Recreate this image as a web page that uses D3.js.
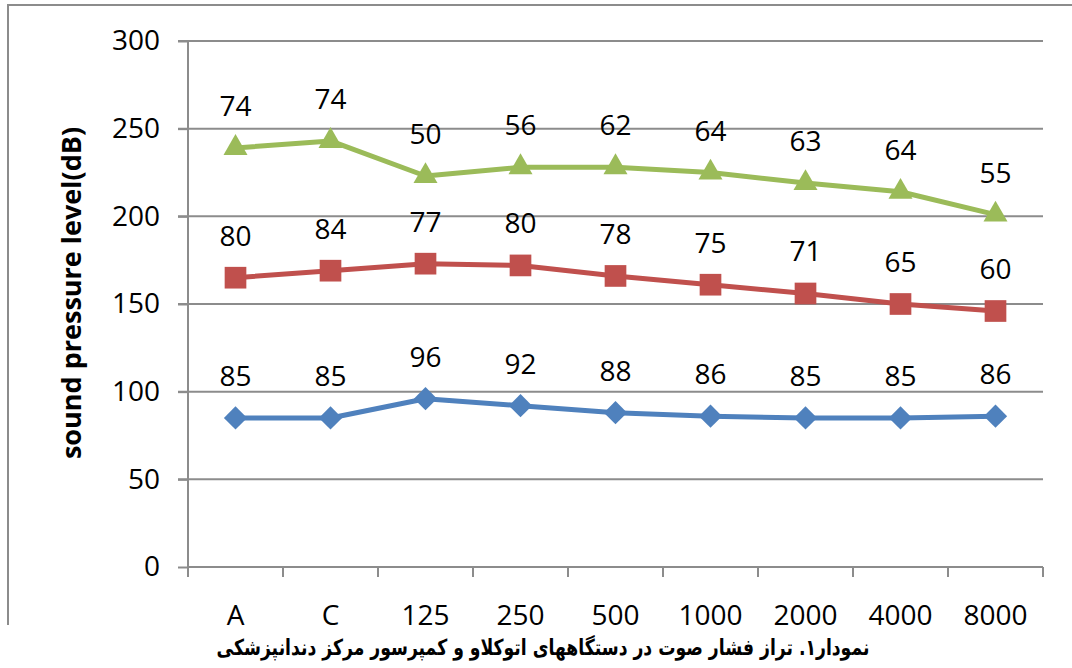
<!DOCTYPE html>
<html>
<head>
<meta charset="utf-8">
<script src="https://cdn.jsdelivr.net/npm/d3@7"></script>
<style>
  body { margin: 0; background: #fff; }
  text { font-family: "Open Sans", "DejaVu Sans", sans-serif; }
</style>
</head>
<body>
<div id="chart"></div>
<script>
// ===== Data =====
let categories = ["A", "C", "125", "250", "500", "1000", "2000", "4000", "8000"];
let seriesA = [85, 85, 96, 92, 88, 86, 85, 85, 86];   // blue
let seriesB = [80, 84, 77, 80, 78, 75, 71, 65, 60];   // red
let seriesC = [74, 74, 50, 56, 62, 64, 63, 64, 55];   // green
let yTicks = [0, 50, 100, 150, 200, 250, 300];
let caption = "نمودار۱. تراز فشار صوت در دستگاههای اتوکلاو و کمپرسور مرکز دندانپزشکی";

let W = 1072, H = 668;
let margin = {top: 41, left: 188, right: 29, bottom: 101},
    width = W - margin.left - margin.right,
    height = H - margin.top - margin.bottom;

let fs = 28;

let svg = d3.select("#chart").append("svg")
    .attr("width", W)
    .attr("height", H);

svg.append("clipPath").attr("id", "frameClip")
  .append("rect").attr("x", 0).attr("y", 0).attr("width", W).attr("height", 625);

let frame = svg.append("g").attr("clip-path", "url(#frameClip)");

// outer chart frame
frame.append("rect")
    .attr("x", 8).attr("y", 5)
    .attr("width", W + 20).attr("height", 700)
    .attr("fill", "#fff")
    .attr("stroke", "#8c8c8c")
    .attr("stroke-width", 2);

let g = frame.append("g")
    .attr("transform", "translate(" + margin.left + "," + margin.top + ")");

let x = d3.scaleBand().domain(categories).range([0, width]),
    y = d3.scaleLinear().domain([0, 300]).range([height, 0]);

// stacked totals
let stacked = [
  {vals: seriesA, color: "#4F81BD", shape: "diamond"},
  {vals: seriesB, color: "#C0504D", shape: "square"},
  {vals: seriesC, color: "#9BBB59", shape: "triangle"}
];
let run = categories.map(() => 0);
stacked.forEach(s => {
  s.pts = s.vals.map((v, i) => { run[i] += v; return {cat: categories[i], v: v, cum: run[i]}; });
});

// gridlines
g.selectAll(".grid").data(yTicks.filter(d => d > 0)).enter().append("line")
    .attr("x1", -10).attr("x2", width)
    .attr("y1", d => y(d)).attr("y2", d => y(d))
    .attr("stroke", "#8c8c8c").attr("stroke-width", 2);

// y axis
let yAxis = d3.axisLeft(y).tickValues(yTicks).tickSize(10).tickPadding(18);
let ya = g.append("g").call(yAxis);
ya.select(".domain").attr("stroke", "#8c8c8c").attr("stroke-width", 2).attr("d", "M0," + height + "V0");
ya.selectAll(".tick line").attr("stroke", "#8c8c8c").attr("stroke-width", 2);
ya.selectAll(".tick text").attr("font-size", fs).attr("fill", "#000")
    .style("font-family", "'Open Sans', sans-serif");

// x axis
let xAxis = d3.axisBottom(x).tickSize(0).tickPadding(38);
let xa = g.append("g").attr("transform", "translate(0," + height + ")").call(xAxis);
xa.select(".domain").attr("stroke", "#8c8c8c").attr("stroke-width", 2).attr("d", "M0,0H" + width);
xa.selectAll(".tick text").attr("font-size", fs).attr("fill", "#000")
    .style("font-family", "'Open Sans', sans-serif");
xa.selectAll(".xt").data(d3.range(categories.length + 1)).enter().append("line")
    .attr("x1", i => i * x.bandwidth()).attr("x2", i => i * x.bandwidth())
    .attr("y1", 0).attr("y2", 10)
    .attr("stroke", "#8c8c8c").attr("stroke-width", 2);

let cx = d => x(d.cat) + x.bandwidth() / 2;

let line = d3.line().x(cx).y(d => y(d.cum));

stacked.forEach(s => {
  g.append("path").datum(s.pts)
      .attr("d", line)
      .attr("fill", "none")
      .attr("stroke", s.color)
      .attr("stroke-width", 5)
      .attr("stroke-linejoin", "round");

  // diamond = square turned 45 degrees, like the Excel marker
  let sym = s.shape === "diamond" ? d3.symbol().type(d3.symbolSquare).size(270)
          : s.shape === "square" ? d3.symbol().type(d3.symbolSquare).size(470)
          : d3.symbol().type(d3.symbolTriangle).size(250);
  let rot = s.shape === "diamond" ? " rotate(45)" : "";

  g.selectAll(null).data(s.pts).enter().append("path")
      .attr("d", sym)
      .attr("transform", d => "translate(" + cx(d) + "," + y(d.cum) + ")" + rot)
      .attr("fill", s.color);

  g.selectAll(null).data(s.pts).enter().append("text")
      .attr("x", cx)
      .attr("y", d => y(d.cum) - 32)
      .attr("text-anchor", "middle")
      .attr("font-size", fs)
      .attr("fill", "#000")
      .text(d => d.v);
});

// y axis title
svg.append("text")
    .attr("transform", "translate(81,293) rotate(-90)")
    .attr("text-anchor", "middle")
    .attr("font-size", 27)
    .attr("font-weight", "bold")
    .text("sound pressure level(dB)");

// caption
svg.append("text")
    .attr("transform", "translate(543,655) scale(0.82,1.05)")
    .attr("text-anchor", "middle")
    .attr("direction", "rtl")
    .attr("font-size", 21)
    .attr("font-weight", "bold")
    .style("font-family", "'DejaVu Sans', 'Noto Sans', sans-serif")
    .text(caption);
</script>
</body>
</html>
